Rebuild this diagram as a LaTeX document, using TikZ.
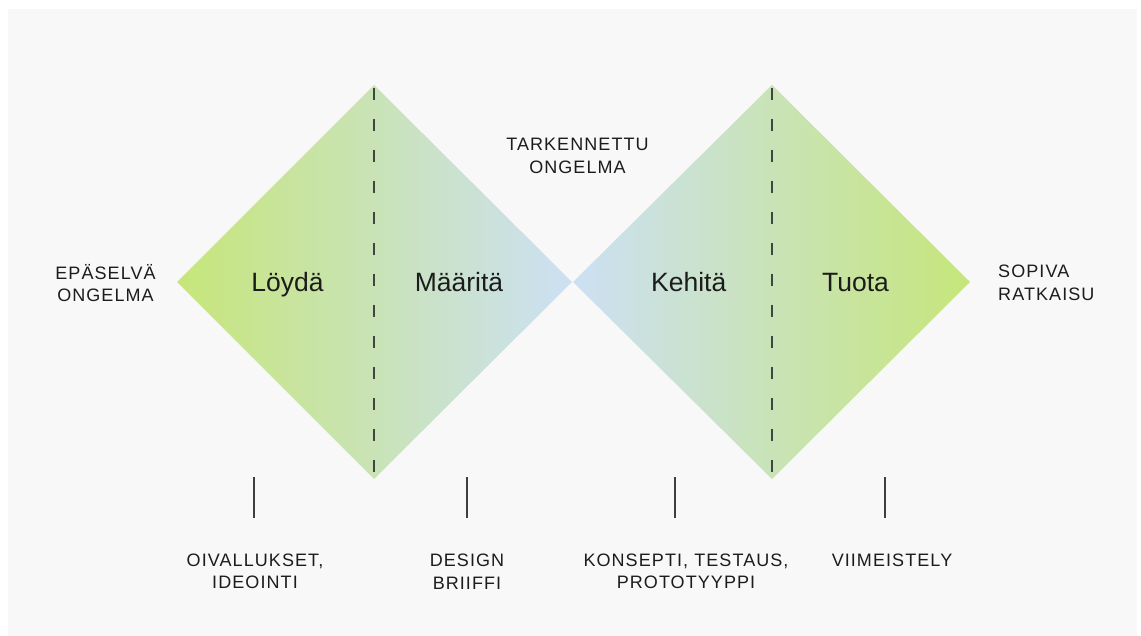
\documentclass[tikz,border=0pt]{standalone}
\usepackage{fontspec}
\setmainfont{Liberation Sans}
\newfontfamily\capsfont[LetterSpace=6]{Liberation Sans}
\definecolor{bgc}{HTML}{F9F8F9}
\definecolor{limec}{HTML}{C6E67A}
\definecolor{midc}{HTML}{CBE8B8}
\definecolor{skyc}{HTML}{CCE0F4}
\definecolor{dashc}{HTML}{3F463F}
\definecolor{txtc}{HTML}{1C1C1C}
\tikzset{
  phase/.style={anchor=base, text=txtc, inner sep=0pt, font=\fontsize{26.5}{30}\selectfont},
  caps/.style={text=txtc, inner sep=0pt, align=center, font=\capsfont\fontsize{18}{22.5}\selectfont},
  divider/.style={dashc, line width=1.6pt, dash pattern=on 12pt off 19pt},
  tick/.style={draw=txtc!85, line width=1.3pt},
}
\begin{document}
\begin{tikzpicture}[x=1pt,y=-1pt]
\fill[white] (0,0) rectangle (1141,636);
\fill[bgc] (8,9) rectangle (1137,636);
\useasboundingbox (0,0) rectangle (1141,636);

% diamonds
\shade[left color=limec, middle color=midc, right color=skyc]
  (177,282) -- (374,85) -- (572,282) -- (374,479) -- cycle;
\shade[left color=skyc, middle color=midc, right color=limec]
  (573,282) -- (772,85) -- (970,282) -- (772,479) -- cycle;

% dividers
\coordinate (d1t) at (374,88);
\coordinate (d1b) at (374,478);
\coordinate (d2t) at (772,88);
\coordinate (d2b) at (772,478);
\draw[divider] (d1t) -- (d1b);
\draw[divider] (d2t) -- (d2b);

% phase labels
\node[phase] (loyda) at (287.5,292) {Löydä};
\node[phase] (maarita) at (459,292) {Määritä};
\node[phase] (kehita) at (688.7,292) {Kehitä};
\node[phase] (tuota) at (855.5,292) {Tuota};

% side labels
\node[caps] (epaselva) at (105.5,283) {EPÄSELVÄ\\ONGELMA};
\node[caps, anchor=west, align=left] (sopiva) at (998,283) {SOPIVA\\RATKAISU};
\node[caps] (tarkennettu) at (577.5,156) {TARKENNETTU\\ONGELMA};

% ticks
\coordinate (t1a) at (254,477); \coordinate (t1b) at (254,518);
\coordinate (t2a) at (467,477); \coordinate (t2b) at (467,518);
\coordinate (t3a) at (675,477); \coordinate (t3b) at (675,518);
\coordinate (t4a) at (885,477); \coordinate (t4b) at (885,518);
\draw[tick] (t1a) -- (t1b);
\draw[tick] (t2a) -- (t2b);
\draw[tick] (t3a) -- (t3b);
\draw[tick] (t4a) -- (t4b);

% bottom labels
\node[caps] (oival) at (255,571.5) {OIVALLUKSET,\\IDEOINTI};
\node[caps] (design) at (467,571.5) {DESIGN\\BRIIFFI};
\node[caps] (konsepti) at (686,571.5) {KONSEPTI, TESTAUS,\\PROTOTYYPPI};
\node[caps] (viim) at (892,560.5) {VIIMEISTELY};
\end{tikzpicture}
\end{document}
